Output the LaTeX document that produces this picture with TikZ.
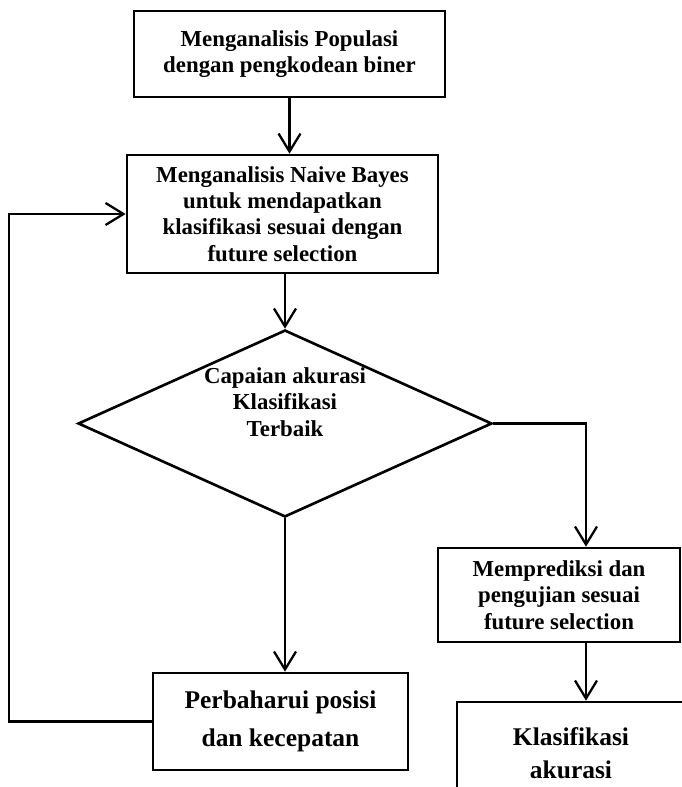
\documentclass[tikz,border=0pt]{standalone}
\usepackage{fontspec}
\setmainfont{Liberation Serif}
\usetikzlibrary{shapes.geometric,arrows.meta}

\begin{document}
\begin{tikzpicture}[x=0.02cm,y=-0.02cm, every text node part/.style={align=center},
  box/.style={draw,line width=1.5pt,inner sep=0pt,font=\bfseries\fontsize{13}{15}\selectfont},
  big/.style={font=\bfseries\fontsize{14.5}{19}\selectfont},
  arr/.style={line width=1.3pt,-{Straight Barb[length=0.36cm,width=0.44cm,line width=1.3pt]}}]

\useasboundingbox (0,0) rectangle (681,787);

\node[box,minimum width=6.22cm,minimum height=1.72cm] (populasi) at (289.5,54) {Menganalisis Populasi\\dengan pengkodean biner};
\node[box,minimum width=6.22cm,minimum height=2.36cm] (bayes) at (282.5,214) {Menganalisis Naive Bayes\\untuk mendapatkan\\klasifikasi sesuai dengan\\future selection};

\node[draw,diamond,line width=1.5pt,minimum width=8.28cm,minimum height=3.74cm,inner sep=0pt] (akurasi) at (285,423.5) {};
\node[font=\bfseries\fontsize{13}{15}\selectfont] (akurasitxt) at (285,402) {Capaian akurasi\\Klasifikasi\\Terbaik};

\node[box,big,minimum width=5.1cm,minimum height=1.94cm] (posisi) at (280.5,721.5) {Perbaharui posisi\\[3pt]dan kecepatan};
\node[box,minimum width=4.84cm,minimum height=1.88cm] (prediksi) at (559,595) {Memprediksi dan\\pengujian sesuai\\future selection};
\node[box,big,minimum width=4.56cm,minimum height=2.04cm] (hasil) at (571,753) {Klasifikasi\\akurasi};

\draw[arr] (populasi.south) -- (populasi.south |- bayes.north);
\draw[arr] (akurasi.north |- bayes.south) -- (akurasi.north);
\draw[arr] (akurasi.east) -| ([xshift=0.54cm]prediksi.north);
\draw[arr] ([xshift=0.54cm]prediksi.south) -- ([xshift=0.54cm]prediksi.south |- hasil.north);
\draw[arr] (akurasi.south) -- (akurasi.south |- posisi.north);
\draw[arr] (posisi.west) -- ++(-143,0) |- (bayes.west);

\end{tikzpicture}
\end{document}
